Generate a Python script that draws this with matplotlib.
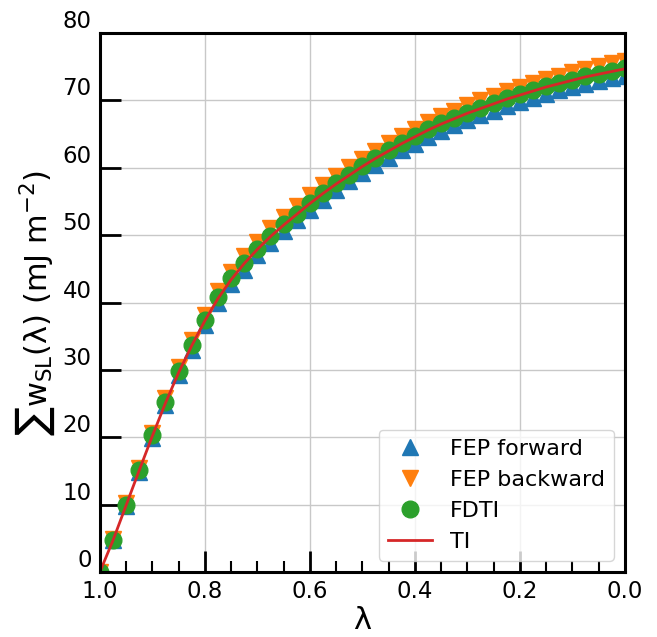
import numpy as np
import matplotlib
matplotlib.use("Agg")
import matplotlib.pyplot as plt
from matplotlib.ticker import MultipleLocator

# lambda runs from 1 (fully coupled) to 0
lam = [1.0, 0.975, 0.95, 0.925, 0.9, 0.875, 0.85, 0.825, 0.8, 0.775,
       0.75, 0.725, 0.7, 0.675, 0.65, 0.625, 0.6, 0.575, 0.55, 0.525,
       0.5, 0.475, 0.45, 0.425, 0.4, 0.375, 0.35, 0.325, 0.3, 0.275,
       0.25, 0.225, 0.2, 0.175, 0.15, 0.125, 0.1, 0.075, 0.05, 0.025, 0.0]

fdti = [0.0, 4.8, 10.0, 15.2, 20.3, 25.3, 29.8, 33.7, 37.4, 40.8,
        43.6, 45.9, 48.0, 49.9, 51.6, 53.2, 54.8, 56.3, 57.7, 59.0,
        60.3, 61.5, 62.6, 63.7, 64.7, 65.7, 66.6, 67.4, 68.2, 68.9,
        69.6, 70.3, 70.9, 71.5, 72.1, 72.6, 73.1, 73.6, 74.0, 74.4, 74.8]

fep_fwd = [0.0, 4.7, 9.8, 14.9, 19.9, 24.8, 29.2, 33.0, 36.6, 39.9,
           42.7, 44.9, 47.0, 48.9, 50.6, 52.2, 53.8, 55.3, 56.7, 58.0,
           59.3, 60.4, 61.5, 62.6, 63.6, 64.6, 65.5, 66.3, 67.1, 67.8,
           68.5, 69.2, 69.8, 70.4, 71.0, 71.5, 72.0, 72.5, 72.9, 73.3, 73.7]

fep_bwd = [0.0, 4.9, 10.2, 15.5, 20.7, 25.8, 30.4, 34.4, 38.2, 41.7,
           44.5, 46.9, 49.0, 51.0, 52.7, 54.3, 55.9, 57.4, 58.8, 60.1,
           61.3, 62.5, 63.7, 64.7, 65.8, 66.8, 67.7, 68.5, 69.3, 70.0,
           70.7, 71.4, 72.0, 72.6, 73.2, 73.7, 74.2, 74.7, 75.1, 75.5, 75.9]

ti = [0.0, 4.7, 9.9, 15.1, 20.2, 25.1, 29.6, 33.6, 37.3, 40.6,
      43.4, 45.8, 47.9, 49.8, 51.5, 53.1, 54.7, 56.2, 57.6, 58.9,
      60.2, 61.4, 62.5, 63.6, 64.6, 65.6, 66.5, 67.3, 68.1, 68.8,
      69.5, 70.2, 70.8, 71.4, 72.0, 72.5, 73.0, 73.5, 73.9, 74.3, 74.7]

plt.rcParams["mathtext.default"] = "regular"

fig = plt.figure(figsize=(6.57, 6.37), dpi=100)
ax = fig.add_axes([0.152, 0.102, 0.799, 0.846])

ax.plot(lam, fep_fwd, "^", color="tab:blue", ms=12, label="FEP forward")
ax.plot(lam, fep_bwd, "v", color="tab:orange", ms=12, label="FEP backward")
ax.plot(lam, fdti, "o", color="tab:green", ms=12, label="FDTI")
ax.plot(lam, ti, "-", color="tab:red", lw=2, label="TI")

ax.set_xlim(1.0, 0.0)
ax.set_ylim(0, 80)
ax.xaxis.set_major_locator(MultipleLocator(0.2))
ax.xaxis.set_minor_locator(MultipleLocator(0.05))
ax.yaxis.set_major_locator(MultipleLocator(10))

ax.tick_params(which="major", direction="in", length=15, width=2, labelsize=16.5)
ax.tick_params(axis="x", which="minor", direction="in", length=8, width=1.5)
ax.tick_params(axis="x", pad=6)
ax.tick_params(axis="y", pad=6)
for t in ax.get_yticklabels():
    t.set_verticalalignment("bottom")
for s in ax.spines.values():
    s.set_linewidth(2.2)

ax.grid(True, which="major", color="#c8c8c8", lw=1)
ax.set_axisbelow(True)

ax.set_xlabel(r"$\lambda$", fontsize=22, labelpad=2)
ax.set_ylabel(r"$\sum w_{SL}(\lambda)$ (mJ m$^{-2}$)", fontsize=22, labelpad=4)

ax.legend(loc="lower right", fontsize=16, handlelength=2.0)

fig.savefig("out.png", dpi=100)
